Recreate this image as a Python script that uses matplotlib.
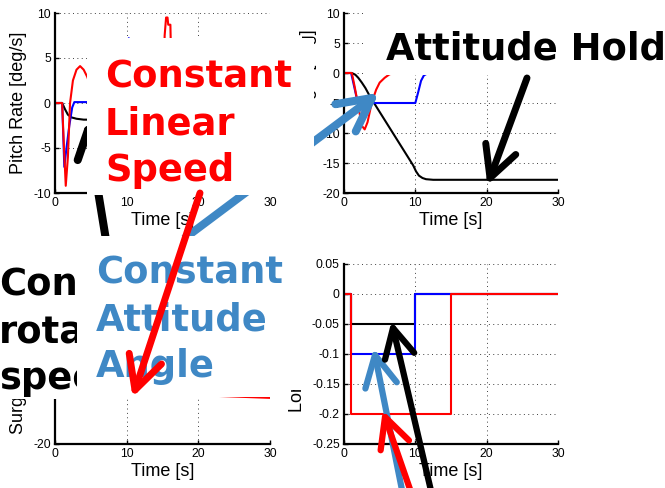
import numpy as np
import matplotlib
matplotlib.use('Agg')
import matplotlib.pyplot as plt
from matplotlib.lines import Line2D
from matplotlib.patches import Polygon
from matplotlib.ticker import FormatStrFormatter

# ---- data ----
x_ticks = [0, 10, 20, 30]

# pitch rate [deg/s]
t_rate_black = [0, 1.0, 1.4, 1.8, 2.3, 3.0, 4.0, 9.8, 10.1, 10.5, 11.0, 30]
rate_black = [0, 0, -0.7, -1.3, -1.6, -1.75, -1.85, -1.85, 1.5, 0.8, 0, 0]
t_rate_blue = [0, 1.0, 1.3, 1.6, 2.0, 2.4, 2.7, 9.9, 10.1, 10.3, 10.6, 11.0, 11.5, 30]
rate_blue = [0, 0, -7.1, -5.0, -2.5, -0.5, 0.1, 0.1, 6.0, 7.2, 5.0, 1.0, 0, 0]
t_rate_red = [0, 1.0, 1.2, 1.5, 1.8, 2.1, 2.5, 3.0, 3.5, 4.0, 4.5, 5.0, 5.5, 6.0, 7.0,
              15.1, 15.3, 15.5, 15.7, 15.8, 16.1, 16.2, 16.6, 30]
rate_red = [0, 0, -4.0, -9.2, -6.0, 0.0, 2.5, 3.7, 4.1, 3.7, 2.9, 1.8, 0.9, 0.3, 0,
            0, 7.5, 9.5, 9.5, 8.7, 8.7, 5.0, 0, 0]

# pitch angle [deg]
t_ang_black = [0, 1.1, 1.6, 2.0, 2.5, 3.0, 3.5, 4.0, 9.7, 10.1, 10.5, 11.0, 11.5, 12.5, 30]
ang_black = [0, 0, -0.3, -0.8, -1.6, -2.5, -3.6, -4.6, -15.4, -16.4, -17.1, -17.5, -17.7, -17.8, -17.8]
t_ang_blue = [0, 1.0, 1.9, 2.1, 10.0, 10.4, 10.8, 11.2, 11.8, 30]
ang_blue = [0, 0, -4.8, -5.0, -5.0, -3.2, -1.3, -0.4, 0, 0]
t_ang_red = [0, 1.1, 1.5, 2.0, 2.5, 2.9, 3.3, 3.9, 4.5, 5.0, 5.7, 6.4, 7.5, 30]
ang_red = [0, 0, -2.3, -5.5, -8.8, -9.4, -8.2, -4.9, -2.8, -1.6, -0.8, -0.2, 0, 0]

# surge velocity
t_surge = [0, 1, 3, 6, 9, 12, 15, 20, 25, 30]
surge_black = [0, 0, -0.7, -1.5, -2.2, -2.4, -2.3, -2.2, -2.1, -2.1]
surge_blue = [0, 0, -1.4, -3.0, -4.4, -4.8, -4.5, -4.2, -4.1, -4.0]
surge_red = [0, 0, -2.5, -5.0, -7.0, -8.3, -9.0, -9.15, -9.45, -9.75]

# longitudinal force (steps)
t_force_black = [0, 1, 10, 30]
force_black = [0, -0.05, 0, 0]
t_force_blue = [0, 1, 10, 30]
force_blue = [0, -0.1, 0, 0]
t_force_red = [0, 1, 15, 30]
force_red = [0, -0.2, 0, 0]

W, H = 665, 488
plt.rcParams['axes.unicode_minus'] = False
plt.rcParams['font.family'] = ['Liberation Sans', 'DejaVu Sans']

fig = plt.figure(figsize=(W / 100, H / 100), dpi=100)
fig.patch.set_facecolor('white')


def make_ax(x0, y0, x1, y1, ylim, yticks, ylabel, labx, laby=0.5):
    ax = fig.add_axes([x0 / W, 1 - y1 / H, (x1 - x0) / W, (y1 - y0) / H])
    ax.set_xlim(0, 30)
    ax.set_ylim(*ylim)
    ax.set_xticks(x_ticks)
    ax.set_yticks(yticks)
    ax.yaxis.set_major_formatter(FormatStrFormatter('%g'))
    ax.spines[['top', 'right']].set_visible(False)
    ax.spines[['left', 'bottom']].set_linewidth(1.6)
    ax.grid(True, linestyle=(0, (1, 3.5)), color='0.25', linewidth=0.7)
    ax.tick_params(direction='in', length=3, width=1, labelsize=8.7, pad=3)
    ax.set_xlabel('Time [s]', fontsize=13, labelpad=2)
    ax.set_ylabel(ylabel, fontsize=13)
    ax.yaxis.set_label_coords(labx, laby)
    return ax


lw = 1.5
ax1 = make_ax(55, 13, 270, 193, (-10, 10), [-10, -5, 0, 5, 10], 'Pitch Rate [deg/s]', -0.13)
ax1.plot(t_rate_black, rate_black, color='k', lw=lw)
ax1.plot(t_rate_blue, rate_blue, color='b', lw=lw)
ax1.plot(t_rate_red, rate_red, color='r', lw=lw)

ax2 = make_ax(344, 13, 558, 193, (-20, 10), [-20, -15, -10, -5, 0, 5, 10],
              'Pitch Angle [deg]', -0.126, 0.53)
ax2.plot(t_ang_black, ang_black, color='k', lw=lw)
ax2.plot(t_ang_blue, ang_blue, color='b', lw=lw)
ax2.plot(t_ang_red, ang_red, color='r', lw=lw)

ax3 = make_ax(55, 264, 270, 444, (-20, 20), [-20, 0, 20], 'Surge Velocity [m/s]', -0.13)
ax3.plot(t_surge, surge_black, color='k', lw=lw)
ax3.plot(t_surge, surge_blue, color='b', lw=lw)
ax3.plot(t_surge, surge_red, color='r', lw=lw)

ax4 = make_ax(344, 264, 558, 444, (-0.25, 0.05), [-0.25, -0.2, -0.15, -0.1, -0.05, 0, 0.05],
              'Long. Force [-]', -0.178)
ax4.plot(t_force_black, force_black, color='k', lw=lw, drawstyle='steps-post')
ax4.plot(t_force_blue, force_blue, color='b', lw=lw, drawstyle='steps-post')
ax4.plot(t_force_red, force_red, color='r', lw=lw, drawstyle='steps-post')


# ---- overlay: white boxes, captions, arrows (pixel layout) ----
def box(pts, z):
    pts = np.array(pts, float)
    fig.add_artist(Polygon(np.c_[pts[:, 0] / W, 1 - pts[:, 1] / H], closed=True,
                           transform=fig.transFigure, facecolor='white',
                           edgecolor='none', zorder=z))


def caption(x, top, s, color, z):
    fig.text(x / W, 1 - top / H, s, color=color, fontsize=26.6, fontweight='bold',
             family='DejaVu Sans', ha='left', va='top', linespacing=1.32, zorder=z)


def arrow(tail, tip, color, width, hl, hw, z):
    tail = np.array(tail, float)
    tip = np.array(tip, float)
    u = (tail - tip) / np.hypot(*(tail - tip))
    n = np.array([-u[1], u[0]])
    for pts in ([tail, tip], [tip + hl * u + hw * n, tip, tip + hl * u - hw * n]):
        pts = np.array(pts)
        fig.add_artist(Line2D(pts[:, 0] / W, 1 - pts[:, 1] / H, transform=fig.transFigure,
                              color=color, lw=width, solid_capstyle='round',
                              solid_joinstyle='round', zorder=z))


steel = '#3F88C5'

arrow((106, 240), (88, 130), 'k', 5.8, 28, 15, 5)
arrow((185, 238), (372, 98), steel, 5.8, 33, 17, 5)

box([(0, 240), (77, 240), (77, 399), (0, 399)], 6)
caption(-1, 267, 'Constant\nrotational\nspeed', 'k', 6.5)

box([(365, 0), (665, 0), (665, 75), (365, 75)], 6)
caption(386, 30, 'Attitude Hold', 'k', 6.5)

box([(87, 38), (314, 38), (314, 195), (87, 195)], 7)
caption(105, 59, 'Constant\nLinear\nSpeed', 'r', 7.5)

box([(77, 236), (305, 236), (305, 390), (275, 390), (275, 397), (77, 397)], 8)
caption(96, 255, 'Constant\nAttitude\nAngle', steel, 8.5)

arrow((200, 193), (135, 390), 'r', 5, 33, 17, 9)
arrow((527, 78), (490, 178), 'k', 5, 31, 16, 9)
arrow((403, 495), (375, 355), steel, 4.5, 31, 16, 9)
arrow((412, 495), (385, 417), 'r', 4.5, 30, 15, 9.1)
arrow((432, 495), (393, 328), 'k', 4.5, 29, 15, 9.2)

fig.savefig('out.png', dpi=100)
